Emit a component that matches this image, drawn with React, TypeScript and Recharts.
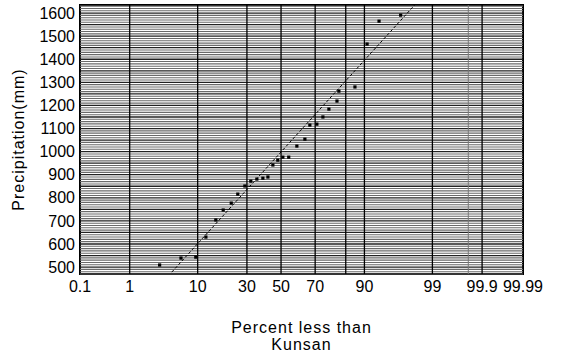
import React from 'react';
import {
  ComposedChart,
  XAxis,
  YAxis,
  Scatter,
  Line,
  ReferenceLine,
  ReferenceArea,
  Label,
} from 'recharts';

// Observed annual precipitation (Kunsan), plotted at their non-exceedance percent
const obsPercent = [
  3.1, 6.2, 9.5, 12.4, 15.8, 18.7, 22.2, 25.3, 28.9, 32.1, 35.5, 39.0, 42.0, 45.0, 48.0,
  51.1, 54.7, 59.6, 64.3, 67.1, 70.9, 74.0, 76.9, 80.5, 81.3, 87.2, 90.7, 93.4, 96.7,
];
const obsPrecip = [
  509, 539, 543, 630, 704, 747, 777, 816, 851, 872, 881, 885, 890, 942, 963,
  976, 976, 1024, 1054, 1115, 1119, 1150, 1184, 1219, 1262, 1280, 1466, 1565, 1591,
];

// Fitted normal line (end points)
const fitPercent = [4.65, 98.0];
const fitPrecip = [478, 1635];

// Axes
const xTickPercents = [0.1, 1, 10, 30, 50, 70, 90, 99, 99.9, 99.99];
const xTickLabels = ['0.1', '1', '10', '30', '50', '70', '90', '99', '99.9', '99.99'];
const xGridPercents = [1, 10, 30, 50, 70, 84, 90, 99, 99.9];
const xFaintGridPercents = [99.8];
const xDomainPercent = [0.1, 99.99];
const yTicks = [500, 600, 700, 800, 900, 1000, 1100, 1200, 1300, 1400, 1500, 1600];
const yDomain = [470, 1635];
const yGridStep = 10;

const FONT = '"Liberation Sans", Arial, Helvetica, sans-serif';

// inverse standard normal CDF (Acklam), input in percent
function probit(pPct: number): number {
  const p = pPct / 100;
  const a = [-3.969683028665376e1, 2.209460984245205e2, -2.759285104469687e2, 1.38357751867269e2, -3.066479806614716e1, 2.506628277459239];
  const b = [-5.447609879822406e1, 1.615858368580409e2, -1.556989798598866e2, 6.680131188771972e1, -1.328068155288572e1];
  const c = [-7.784894002430293e-3, -3.223964580411365e-1, -2.400758277161838, -2.549732539343734, 4.374664141464968, 2.938163982698783];
  const d = [7.784695709041462e-3, 3.224671290700398e-1, 2.445134137142996, 3.754408661907416];
  const plow = 0.02425;
  const phigh = 1 - plow;
  if (p < plow) {
    const q = Math.sqrt(-2 * Math.log(p));
    return (((((c[0] * q + c[1]) * q + c[2]) * q + c[3]) * q + c[4]) * q + c[5]) /
      ((((d[0] * q + d[1]) * q + d[2]) * q + d[3]) * q + 1);
  }
  if (p > phigh) {
    const q = Math.sqrt(-2 * Math.log(1 - p));
    return -(((((c[0] * q + c[1]) * q + c[2]) * q + c[3]) * q + c[4]) * q + c[5]) /
      ((((d[0] * q + d[1]) * q + d[2]) * q + d[3]) * q + 1);
  }
  const q = p - 0.5;
  const r = q * q;
  return ((((((a[0] * r + a[1]) * r + a[2]) * r + a[3]) * r + a[4]) * r + a[5]) * q) /
    (((((b[0] * r + b[1]) * r + b[2]) * r + b[3]) * r + b[4]) * r + 1);
}

const obsData = obsPercent.map((p, i) => ({ z: probit(p), v: obsPrecip[i] }));
const fitData = fitPercent.map((p, i) => ({ z: probit(p), v: fitPrecip[i] }));
const xTicks = xTickPercents.map(probit);
const xMin = probit(xDomainPercent[0]);
const xMax = probit(xDomainPercent[1]);

const hGrid: number[] = [];
for (let v = Math.ceil(yDomain[0] / yGridStep) * yGridStep; v < yDomain[1]; v += yGridStep) hGrid.push(v);

const fmtX = (v: number) => {
  const i = xTicks.findIndex((t) => Math.abs(t - v) < 1e-6);
  return i >= 0 ? xTickLabels[i] : '';
};

const XTitle = (props: any) => {
  const vb = props.viewBox || {};
  const cx = vb.x + vb.width / 2;
  return (
    <text x={cx} y={vb.y + 59} textAnchor="middle" fontFamily={FONT} fontSize={16} letterSpacing={1} fill="#000">
      <tspan x={cx}>Percent less than</tspan>
      <tspan x={cx} dy={17}>Kunsan</tspan>
    </text>
  );
};

const YTitle = (props: any) => {
  const vb = props.viewBox || {};
  const cy = vb.y + vb.height / 2;
  const x = 24;
  return (
    <text x={x} y={cy} transform={`rotate(-90, ${x}, ${cy})`} textAnchor="middle" fontFamily={FONT} fontSize={16} letterSpacing={1} fill="#000">
      Precipitation(mm)
    </text>
  );
};

const Dot = (props: any) => {
  const { cx, cy } = props;
  if (cx == null || cy == null) return null;
  return <rect x={cx - 1.6} y={cy - 1.6} width={3.2} height={3.2} fill="#000" />;
};

export default function App() {
  return (
    <div style={{ position: 'absolute', left: 0, top: 0, background: '#fff' }}>
      <ComposedChart width={564} height={359} margin={{ top: 5, right: 41, bottom: 25, left: 0 }}>
        <XAxis
          type="number"
          dataKey="z"
          domain={[xMin, xMax]}
          ticks={xTicks}
          interval={0}
          tickFormatter={fmtX}
          axisLine={false}
          tickLine={false}
          tickSize={0}
          tickMargin={7}
          height={60}
          tick={{ fill: '#000', fontSize: 16, fontFamily: FONT }}
        >
          <Label content={XTitle} />
        </XAxis>
        <YAxis
          type="number"
          dataKey="v"
          domain={yDomain}
          ticks={yTicks}
          interval={0}
          axisLine={false}
          tickLine={false}
          tickSize={0}
          tickMargin={5}
          width={80}
          tick={{ fill: '#000', fontSize: 16, fontFamily: FONT }}
        >
          <Label content={YTitle} />
        </YAxis>
        {hGrid.map((v) => (
          <ReferenceLine
            key={'h' + v}
            y={v}
            stroke={v % 50 === 0 ? '#222' : '#6a6a6a'}
            strokeWidth={v % 50 === 0 ? 1.3 : 1.1}
          />
        ))}
        {xFaintGridPercents.map((p) => (
          <ReferenceLine key={'fx' + p} x={probit(p)} stroke="#777" strokeWidth={1} />
        ))}
        {xGridPercents.map((p) => (
          <ReferenceLine key={'x' + p} x={probit(p)} stroke="#000" strokeWidth={1.3} />
        ))}
        <Line
          data={fitData}
          dataKey="v"
          type="linear"
          stroke="#000"
          strokeWidth={1}
          strokeDasharray="3 2"
          dot={false}
          activeDot={false}
          isAnimationActive={false}
        />
        <Scatter data={obsData} dataKey="v" fill="#000" shape={Dot} isAnimationActive={false} />
        <ReferenceArea x1={xMin} x2={xMax} y1={yDomain[0]} y2={yDomain[1]} fill="none" stroke="#000" strokeWidth={2} fillOpacity={0} />
      </ComposedChart>
    </div>
  );
}
